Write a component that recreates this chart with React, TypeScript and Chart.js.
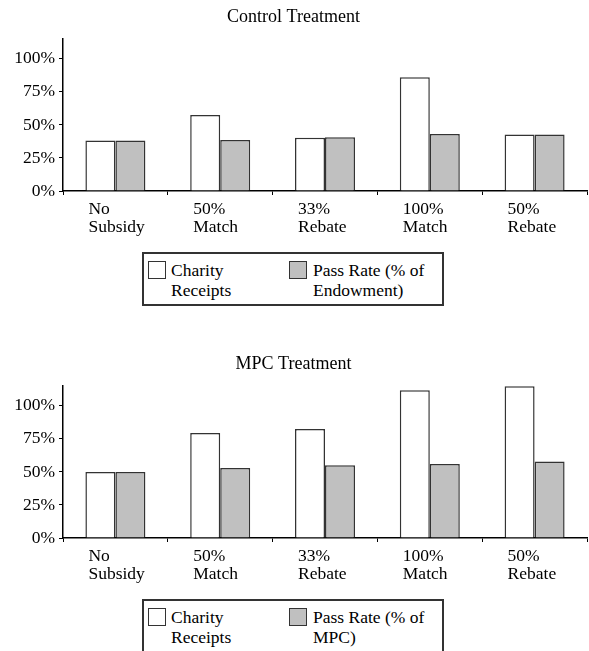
import React, { useEffect, useRef } from 'react';
import { Chart, registerables } from 'chart.js';

Chart.register(...registerables);

// ---- data ----
const categories: string[][] = [
  ['No', 'Subsidy'],
  ['50%', 'Match'],
  ['33%', 'Rebate'],
  ['100%', 'Match'],
  ['50%', 'Rebate'],
];

const controlCharity = [38.3, 57.5, 40.3, 86.1, 42.8];
const controlPass = [38.3, 38.5, 40.6, 43.1, 42.8];

const mpcCharity = [49.9, 79.4, 82.4, 111.7, 114.8];
const mpcPass = [49.9, 52.9, 55.0, 56.0, 57.8];

const yMin = 0;
const yMax = 115;
const yStep = 25;

const charityLabel = ['Charity', 'Receipts'];
const passControlLabel = ['Pass Rate (% of', 'Endowment)'];
const passMpcLabel = ['Pass Rate (% of', 'MPC)'];

const FONT = "'Liberation Serif', 'Times New Roman', Times, serif";

interface PanelProps {
  title: string;
  charity: number[];
  pass: number[];
  passLines: string[];
  top: number;
}

function Panel({ title, charity, pass, passLines, top }: PanelProps) {
  const ref = useRef<HTMLCanvasElement | null>(null);

  useEffect(() => {
    if (!ref.current) return;
    const chart = new Chart(ref.current, {
      type: 'bar',
      data: {
        labels: categories,
        datasets: [
          {
            label: charityLabel.join(' '),
            data: charity,
            backgroundColor: '#ffffff',
            borderColor: '#333333',
            borderWidth: 1.5,
            categoryPercentage: 0.5725,
            barPercentage: 1.0,
          },
          {
            label: passLines.join(' '),
            data: pass,
            backgroundColor: '#c0c0c0',
            borderColor: '#333333',
            borderWidth: 1.5,
            categoryPercentage: 0.5725,
            barPercentage: 1.0,
          },
        ],
      },
      options: {
        responsive: true,
        maintainAspectRatio: false,
        animation: false,
        layout: { padding: { left: 0, right: 2, top: 0, bottom: 0 } },
        plugins: {
          legend: { display: false },
          tooltip: { enabled: false },
          title: {
            display: true,
            text: title,
            color: '#000',
            font: { family: FONT, size: 18, weight: 'normal' },
            padding: { top: 6, bottom: 11.4 },
          },
        },
        scales: {
          x: {
            offset: true,
            grid: {
              display: true,
              offset: true,
              drawOnChartArea: false,
              drawTicks: true,
              tickLength: 4,
              color: '#000',
              lineWidth: 1,
            },
            border: { display: true, color: '#000', width: 1.5 },
            ticks: {
              color: '#000',
              font: { family: FONT, size: 17.5, lineHeight: '18px' },
              align: 'start',
              labelOffset: -27,
              padding: 5,
              maxRotation: 0,
              autoSkip: false,
            },
            afterFit: (s: any) => {
              s.height = 54;
              s.paddingLeft = 0;
              s.paddingRight = 0;
            },
          },
          y: {
            min: yMin,
            max: yMax,
            grid: {
              drawOnChartArea: false,
              drawTicks: true,
              tickLength: 4,
              color: '#000',
              lineWidth: 1,
            },
            border: { display: true, color: '#000', width: 1.5 },
            ticks: {
              stepSize: yStep,
              includeBounds: false,
              color: '#000',
              font: { family: FONT, size: 17.5 },
              padding: 4,
              callback: (v: any) => v + '%',
            },
            afterFit: (s: any) => {
              s.width = 63;
              s.paddingTop = 0;
              s.paddingBottom = 0;
            },
          },
        },
      },
    } as any);
    return () => chart.destroy();
  }, [title, charity, pass, passLines]);

  const textStyle: React.CSSProperties = {
    position: 'absolute',
    top: 261,
    fontFamily: FONT,
    fontSize: '17.5px',
    lineHeight: '19.5px',
    color: '#000',
    whiteSpace: 'nowrap',
  };
  const swatch = (left: number, bg: string): React.CSSProperties => ({
    position: 'absolute',
    left,
    top: 261,
    width: 18,
    height: 18,
    boxSizing: 'border-box',
    border: '1px solid #333',
    background: bg,
  });

  return (
    <div style={{ position: 'absolute', left: 0, top, width: 589, height: 347 }}>
      <div style={{ position: 'absolute', left: 0, top: 0, width: 589, height: 245 }}>
        <canvas ref={ref} style={{ display: 'block' }} />
      </div>
      <div
        style={{
          position: 'absolute',
          left: 142,
          top: 252,
          width: 302,
          height: 54,
          boxSizing: 'border-box',
          border: '2px solid #333',
          background: '#fff',
        }}
      />
      <div style={swatch(148, '#ffffff')} />
      <div style={{ ...textStyle, left: 171 }}>
        {charityLabel.map((l, i) => (
          <div key={i}>{l}</div>
        ))}
      </div>
      <div style={swatch(289, '#c0c0c0')} />
      <div style={{ ...textStyle, left: 313 }}>
        {passLines.map((l, i) => (
          <div key={i}>{l}</div>
        ))}
      </div>
    </div>
  );
}

export default function App() {
  return (
    <div
      style={{
        position: 'absolute',
        left: 0,
        top: 0,
        width: 589,
        height: 651,
        overflow: 'hidden',
        background: '#fff',
      }}
    >
      <Panel
        title="Control Treatment"
        charity={controlCharity}
        pass={controlPass}
        passLines={passControlLabel}
        top={0}
      />
      <Panel
        title="MPC Treatment"
        charity={mpcCharity}
        pass={mpcPass}
        passLines={passMpcLabel}
        top={347}
      />
    </div>
  );
}
